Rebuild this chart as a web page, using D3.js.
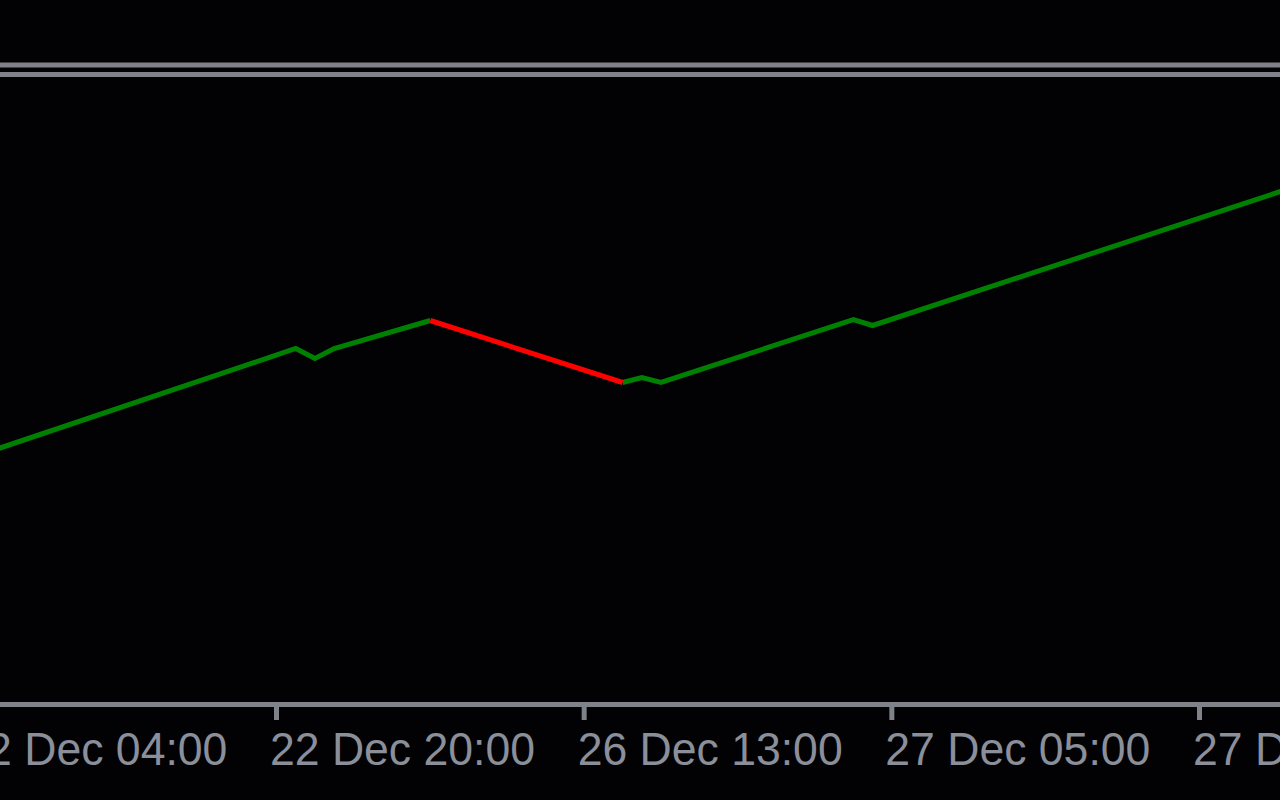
<!DOCTYPE html>
<html>
<head>
<meta charset="utf-8">
<script src="https://cdn.jsdelivr.net/npm/d3@7"></script>
<style>
  html, body { margin: 0; padding: 0; background: #020204; overflow: hidden; }
  svg { display: block; }
</style>
</head>
<body>
<svg id="chart" width="1280" height="800"></svg>
<script>
// ---- data (bar index on an hourly chart, equity in chart units) ----
const tickBars   = [0, 16, 32, 48, 64];
const tickLabels = ["22 Dec 04:00", "22 Dec 20:00", "26 Dec 13:00", "27 Dec 05:00", "27 Dec 21:00"];
const bars       = [0,   17,  18,  19,  24,  34,  35,  36,  46,  47,  69];
const equity     = [246, 356, 346, 356, 384, 322, 327, 322, 385, 379, 518];
const drawdownStartBar = 24;
const drawdownEndBar   = 34;

const W = 1280, H = 800;
const svg = d3.select("#chart");
svg.append("rect").attr("width", W).attr("height", H).attr("fill", "#020204");

const x = d3.scaleLinear().domain([16, 64]).range([276.5, 1199.5]);
const y = d3.scaleLinear().domain([0, 638]).range([704.5, 66.5]);

const grey = "#80828a";

// top frame lines
svg.append("line").attr("x1", 0).attr("x2", W).attr("y1", 65).attr("y2", 65)
  .attr("stroke", grey).attr("stroke-width", 5);
svg.append("line").attr("x1", 0).attr("x2", W).attr("y1", 74.5).attr("y2", 74.5)
  .attr("stroke", grey).attr("stroke-width", 5);

// clip for plot area
svg.append("clipPath").attr("id", "plot")
  .append("rect").attr("x", 0).attr("y", 78).attr("width", W).attr("height", 623);

const pts = bars.map((b, i) => ({ bar: b, v: equity[i] }));
const seg1 = pts.filter(d => d.bar <= drawdownStartBar);
const seg2 = pts.filter(d => d.bar >= drawdownStartBar && d.bar <= drawdownEndBar);
const seg3 = pts.filter(d => d.bar >= drawdownEndBar);

const line = d3.line().x(d => x(d.bar)).y(d => y(d.v));
const g = svg.append("g").attr("clip-path", "url(#plot)");
[[seg1, "#008000"], [seg3, "#008000"], [seg2, "#ff0000"]].forEach(([s, c]) => {
  g.append("path").datum(s).attr("d", line)
    .attr("fill", "none").attr("stroke", c).attr("stroke-width", 5)
    .attr("stroke-linejoin", "miter").attr("stroke-linecap", "butt");
});

// x axis
const axisY = 704.5;
svg.append("line").attr("x1", 0).attr("x2", W).attr("y1", axisY).attr("y2", axisY)
  .attr("stroke", grey).attr("stroke-width", 5);

const ticks = svg.append("g");
tickBars.forEach((b, i) => {
  const tx = x(b);
  ticks.append("line").attr("x1", tx).attr("x2", tx).attr("y1", axisY).attr("y2", 720)
    .attr("stroke", grey).attr("stroke-width", 5);
  ticks.append("text")
    .attr("x", tx - 6.5).attr("y", 765)
    .attr("textLength", 265).attr("lengthAdjust", "spacingAndGlyphs")
    .attr("font-family", "Liberation Sans, Arial, sans-serif")
    .attr("font-size", 47)
    .attr("fill", "#8a8f9a")
    .text(tickLabels[i]);
});
</script>
</body>
</html>
